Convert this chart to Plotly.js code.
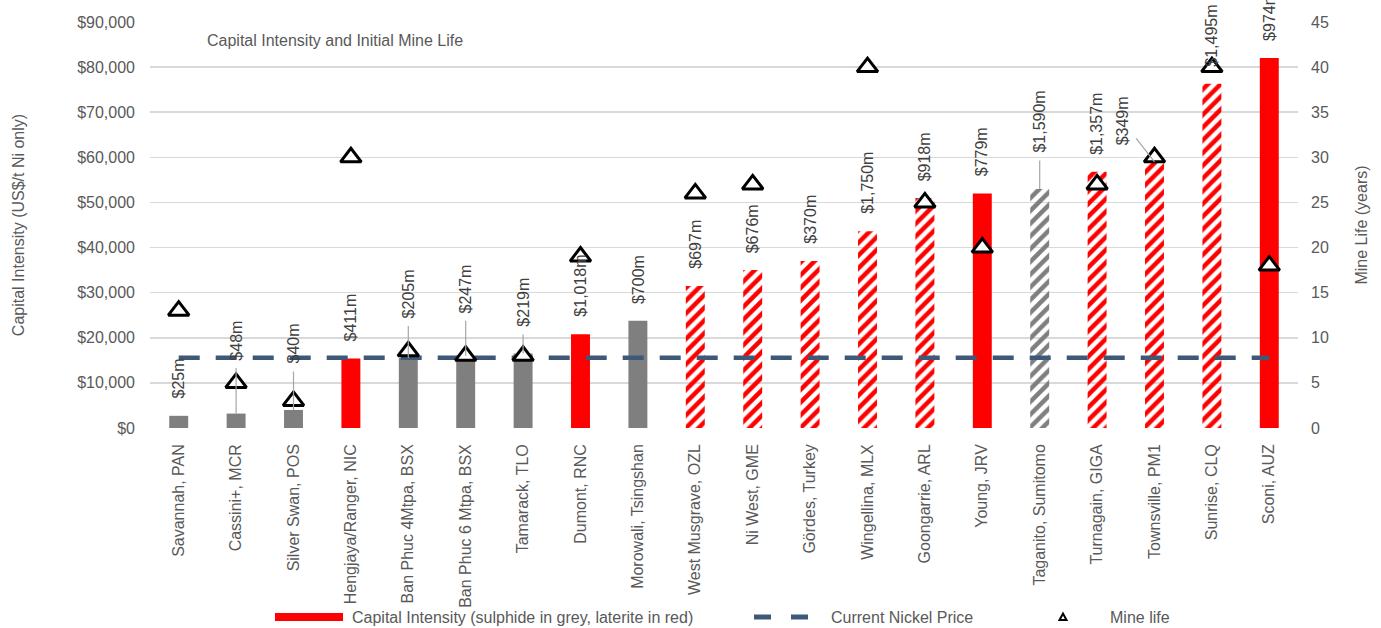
<!DOCTYPE html>
<html><head><meta charset="utf-8">
<script src="https://cdn.plot.ly/plotly-3.0.1.min.js"></script>
<style>html,body{margin:0;padding:0;background:#fff}#chart{width:1381px;height:628px}</style>
</head><body><div id="chart"></div>
<script>
// ---------------- data ----------------
const categories = ["Savannah, PAN","Cassini+, MCR","Silver Swan, POS","Hengjaya/Ranger, NIC","Ban Phuc 4Mtpa, BSX","Ban Phuc 6 Mtpa, BSX","Tamarack, TLO","Dumont, RNC","Morowali, Tsingshan","West Musgrave, OZL","Ni West, GME","Gördes, Turkey","Wingellina, MLX","Goongarrie, ARL","Young, JRV","Taganito, Sumitomo","Turnagain, GIGA","Townsville, PM1","Sunrise, CLQ","Sconi, AUZ"];
const capitalIntensity = [2700,3200,4000,15400,15500,16000,16500,20800,23800,31500,35000,37000,43600,51000,52000,53000,56800,59000,76300,82000];
const capexLabels = ["$25m","$48m","$40m","$411m","$205m","$247m","$219m","$1,018m","$700m","$697m","$676m","$370m","$1,750m","$918m","$779m","$1,590m","$1,357m","$349m","$1,495m","$974m"];
const mineLife = [13,5,3,30,8.5,8,8,19,null,26,27,null,40,25,20,null,27,30,40,18];
const colourGroup = ["sulphide","sulphide","sulphide","laterite","sulphide","sulphide","sulphide","laterite","sulphide","laterite","laterite","laterite","laterite","laterite","laterite","sulphide","laterite","laterite","laterite","laterite"];
const stage = ["existing","existing","existing","existing","existing","existing","existing","existing","existing","proposed","proposed","proposed","proposed","proposed","existing","proposed","proposed","proposed","proposed","existing"];
const nickelPrice = 15600;
const legendLabels = ["Capital Intensity (sulphide in grey, laterite in red)","Current Nickel Price","Mine life"];

// ---------------- styling ----------------
const FONT = "Liberation Sans, Arial, Helvetica, sans-serif";
const RED = "#ff0000", GREY = "#7f7f7f", TXT = "#595959", LBL = "#404040";
const baseColour = colourGroup.map(g => g === "laterite" ? RED : GREY);

const bars = {
  type: "bar", x: categories, y: capitalIntensity, yaxis: "y",
  marker: {
    color: baseColour,
    line: {width: 0},
    pattern: {
      shape: stage.map(s => s === "proposed" ? "/" : ""),
      fgcolor: baseColour,
      bgcolor: stage.map(s => s === "proposed" ? "#ffffff" : "rgba(0,0,0,0)"),
      fillmode: "replace",
      size: 9, solidity: 0.5
    }
  },
  hoverinfo: "x+y"
};
const priceLine = {
  type: "scatter", mode: "lines",
  x: [categories[0], categories[categories.length - 1]],
  y: [nickelPrice, nickelPrice], yaxis: "y",
  line: {color: "#3e5878", width: 4.5, dash: "21px,16px"},
  hoverinfo: "y"
};
const life = {
  type: "scatter", mode: "markers", x: categories, y: mineLife, yaxis: "y2",
  marker: {symbol: "triangle-up", size: 18, color: "#ffffff", line: {color: "#000000", width: 3}},
  hoverinfo: "x+y"
};

// label placement (pixel offsets) for labels moved off their bars with leader lines
const leaderOffsets = {1:[0,-73], 2:[0,-66], 4:[0,-64], 5:[0,-67], 6:[0,-51], 15:[0,-67], 17:[-32,-41]};
const labelGap = {};

const annotations = categories.map((c, i) => {
  const base = {x: c, y: capitalIntensity[i], xref: "x", yref: "y", text: capexLabels[i],
    textangle: -90, font: {family: FONT, size: 16, color: LBL}};
  if (leaderOffsets[i]) {
    return Object.assign(base, {showarrow: true, ax: leaderOffsets[i][0], ay: leaderOffsets[i][1],
      arrowhead: 0, arrowwidth: 1.2, arrowcolor: "#a6a6a6", startstandoff: 6});
  }
  return Object.assign(base, {showarrow: false, yanchor: "bottom", yshift: labelGap[i] || 15});
});

// plot-area geometry for custom legend
const L = 150, R = 83, T = 22, B = 200, W = 1381, H = 628;
const pw = W - L - R, ph = H - T - B;
const px = v => (v - L) / pw;
const py = v => (H - B - v) / ph;
const legY = 617;

annotations.push(
  {xref: "paper", yref: "paper", x: px(350), y: py(legY), xanchor: "left", yanchor: "middle", showarrow: false,
   text: legendLabels[0], font: {family: FONT, size: 16, color: TXT}},
  {xref: "paper", yref: "paper", x: px(829), y: py(legY), xanchor: "left", yanchor: "middle", showarrow: false,
   text: legendLabels[1], font: {family: FONT, size: 16, color: TXT}},
  {xref: "paper", yref: "paper", x: px(1108), y: py(legY), xanchor: "left", yanchor: "middle", showarrow: false,
   text: legendLabels[2], font: {family: FONT, size: 16, color: TXT}}
);

const shapes = [
  {type: "rect", xref: "paper", yref: "paper", x0: px(275), x1: px(343), y0: py(621), y1: py(613),
   fillcolor: RED, line: {width: 0}},
  {type: "line", xref: "paper", yref: "paper", x0: px(754), x1: px(771), y0: py(legY), y1: py(legY),
   line: {color: "#3e5878", width: 5}},
  {type: "line", xref: "paper", yref: "paper", x0: px(791), x1: px(808), y0: py(legY), y1: py(legY),
   line: {color: "#3e5878", width: 5}},
  {type: "path", xref: "paper", yref: "paper",
   path: `M ${px(1059.5)} ${py(620)} L ${px(1066.5)} ${py(620)} L ${px(1063)} ${py(613.5)} Z`,
   fillcolor: "#ffffff", line: {color: "#000000", width: 2}}
];

const layout = {
  width: W, height: H,
  margin: {l: L, r: R, t: T, b: B, autoexpand: false},
  paper_bgcolor: "#ffffff", plot_bgcolor: "#ffffff",
  font: {family: FONT, size: 16, color: TXT},
  showlegend: false,
  bargap: 0.67,
  title: {text: "Capital Intensity and Initial Mine Life", font: {family: FONT, size: 16, color: TXT},
    xref: "container", yref: "container", x: 207 / W, xanchor: "left", y: 1 - 40 / H, yanchor: "middle"},
  xaxis: {type: "category", range: [-0.5, categories.length - 0.5], autorange: false, tickangle: -90,
    showgrid: false, zeroline: false, showline: false, ticks: "",
    ticklabelstandoff: 12, tickfont: {family: FONT, size: 16, color: TXT}, automargin: false},
  yaxis: {range: [0, 90000], dtick: 10000, tickprefix: "$", tickformat: ",.0f", showgrid: true,
    gridcolor: "#d9d9d9", gridwidth: 1.5, zeroline: false, showline: false, ticks: "",
    ticklabelstandoff: 14, tickfont: {family: FONT, size: 16, color: TXT}, automargin: false,
    title: {text: "Capital Intensity (US$/t Ni only)", font: {family: FONT, size: 16, color: TXT}, standoff: 48}},
  yaxis2: {overlaying: "y", side: "right", range: [0, 45], dtick: 5, showgrid: false, zeroline: false,
    showline: false, ticks: "", ticklabelstandoff: 12, tickfont: {family: FONT, size: 16, color: TXT}, automargin: false,
    title: {text: "Mine Life (years)", font: {family: FONT, size: 16, color: TXT}, standoff: 27}},
  annotations: annotations,
  shapes: shapes
};

Plotly.newPlot("chart", [bars, priceLine, life], layout, {displayModeBar: false, staticPlot: true});
</script>
</body></html>
